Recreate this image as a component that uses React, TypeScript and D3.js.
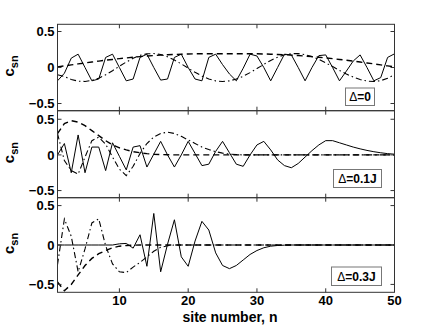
import React from "react";
import * as d3 from "d3";

// site numbers n = 1..50
const sites = d3.range(1, 51);
const xTicks = [10, 20, 30, 40, 50];
const yTicks = [-0.5, 0, 0.5];
const yTickLabels = ["\u22120.5", "0", "0.5"];

// Delta = 0
const topSolid = [
  -0.185, -0.08, 0.13, 0.185, 0.0, -0.185, -0.16, 0.14, 0.185, 0.0,
  -0.185, -0.16, 0.14, 0.185, 0.0, -0.175, -0.16, 0.14, 0.185, 0.0,
  -0.16, -0.185, 0.14, 0.185, 0.04, -0.09, -0.185, -0.01, 0.185, 0.16,
  0.0, -0.185, 0.0, 0.185, 0.175, 0.0, -0.185, 0.0, 0.165, 0.175,
  0.0, -0.185, -0.05, 0.09, 0.175, 0.0, -0.185, -0.14, 0.14, 0.19,
];
const topDashed = [
  0.008, 0.022, 0.036, 0.05, 0.063, 0.076, 0.089, 0.101, 0.112, 0.123,
  0.133, 0.142, 0.151, 0.159, 0.166, 0.172, 0.177, 0.181, 0.185, 0.188,
  0.19, 0.191, 0.192, 0.192, 0.192, 0.192, 0.192, 0.192, 0.191, 0.19,
  0.188, 0.185, 0.181, 0.177, 0.172, 0.166, 0.159, 0.151, 0.142, 0.133,
  0.123, 0.112, 0.101, 0.089, 0.076, 0.063, 0.05, 0.036, 0.022, 0.008,
];
const topDashDot = [
  -0.1, -0.126, -0.166, -0.19, -0.194, -0.18, -0.148, -0.101, -0.044, 0.017,
  0.076, 0.128, 0.168, 0.19, 0.194, 0.18, 0.149, 0.104, 0.05, -0.009,
  -0.067, -0.119, -0.16, -0.186, -0.195, -0.186, -0.161, -0.122, -0.071, -0.015,
  0.043, 0.098, 0.143, 0.176, 0.193, 0.193, 0.179, 0.151, 0.112, 0.065,
  0.013, -0.04, -0.09, -0.133, -0.167, -0.188, -0.195, -0.183, -0.149, -0.098,
];

// Delta = 0.1J
const midSolid = [
  0.0, 0.16, -0.25, 0.28, -0.25, 0.11, 0.11, -0.22, 0.17, -0.02,
  -0.21, 0.11, 0.13, -0.17, 0.01, 0.19, 0.0, -0.17, 0.0, 0.19,
  0.02, -0.15, -0.13, 0.05, 0.19, 0.03, -0.13, -0.16, 0.0, 0.14,
  0.19, 0.07, -0.07, -0.15, -0.18, -0.12, -0.03, 0.06, 0.14, 0.2,
  0.2, 0.17, 0.14, 0.11, 0.085, 0.063, 0.045, 0.03, 0.018, 0.01,
];
const midDashed = [
  0.3, 0.44, 0.48, 0.46, 0.41, 0.34, 0.27, 0.2, 0.14, 0.1,
  0.07, 0.045, 0.03, 0.018, 0.01, 0.005, 0.002, 0, 0, 0,
  0, 0, 0, 0, 0, 0, 0, 0, 0, 0,
  0, 0, 0, 0, 0, 0, 0, 0, 0, 0,
  0, 0, 0, 0, 0, 0, 0, 0, 0, 0,
];
const midDashDot = [
  0.3, -0.08, -0.22, -0.27, -0.03, 0.2, 0.25, 0.15, -0.03, -0.2,
  -0.29, -0.16, 0.02, 0.16, 0.25, 0.3, 0.32, 0.3, 0.26, 0.21,
  0.16, 0.11, 0.075, 0.045, 0.025, 0.012, 0.005, 0, 0, 0,
  0, 0, 0, 0, 0, 0, 0, 0, 0, 0,
  0, 0, 0, 0, 0, 0, 0, 0, 0, 0,
];

// Delta = 0.3J
const botSolid = [
  0, 0, 0, 0, 0, 0, 0, 0, 0, 0.015,
  0.02, -0.04, 0.13, -0.27, 0.4, -0.34, 0.01, 0.32, -0.15, -0.27,
  0.05, 0.3, 0.19, -0.1, -0.26, -0.3, -0.26, -0.19, -0.12, -0.07,
  -0.035, -0.015, -0.006, -0.002, 0, 0, 0, 0, 0, 0,
  0, 0, 0, 0, 0, 0, 0, 0, 0, 0,
];
const botDashed = [
  -0.47, -0.58, -0.5, -0.38, -0.26, -0.17, -0.11, -0.07, -0.035, -0.015,
  -0.006, -0.002, 0, 0, 0, 0, 0, 0, 0, 0,
  0, 0, 0, 0, 0, 0, 0, 0, 0, 0,
  0, 0, 0, 0, 0, 0, 0, 0, 0, 0,
  0, 0, 0, 0, 0, 0, 0, 0, 0, 0,
];
const botDashDot = [
  -0.25, 0.33, 0.11, -0.34, -0.05, 0.28, 0.33, -0.01, -0.24, -0.34,
  -0.35, -0.28, -0.22, -0.15, -0.08, -0.03, -0.01, 0, 0, 0,
  0, 0, 0, 0, 0, 0, 0, 0, 0, 0,
  0, 0, 0, 0, 0, 0, 0, 0, 0, 0,
  0, 0, 0, 0, 0, 0, 0, 0, 0, 0,
];

const panels = [
  { top: 24.3, bottom: 110.7, domain: [-0.6, 0.6], series: [topSolid, topDashed, topDashDot], label: "=0", box: [345.5, 88, 29, 17.5] },
  { top: 110.7, bottom: 197.7, domain: [-0.6, 0.62], series: [midSolid, midDashed, midDashDot], label: "=0.1J", box: [333.5, 169.5, 48, 18] },
  { top: 197.7, bottom: 292.3, domain: [-0.6, 0.6], series: [botSolid, botDashed, botDashDot], label: "=0.3J", box: [331.5, 267, 50, 18.5] },
];

// solid, dashed, dash-dot
const dashes = [null, "6,4", "6,3,1.5,3"];
const widths = [1, 1.4, 1.1];
const font = "Arial, 'Liberation Sans', Helvetica, sans-serif";

export default function App() {
  const x = d3.scaleLinear().domain([1, 50]).range([57.5, 394.5]);
  const left = x.range()[0];
  const right = x.range()[1];

  return (
    <svg width={436} height={329} style={{ position: "absolute", left: 0, top: 0, background: "#fff" }} fontFamily={font}>
      {panels.map((p, pi) => {
        const y = d3.scaleLinear().domain(p.domain).range([p.bottom, p.top]);
        const line = d3.line<number>().x((_, i) => x(sites[i])).y((d) => y(d));
        const mid = (p.top + p.bottom) / 2;
        return (
          <g key={pi}>
            <defs>
              <clipPath id={"clip" + pi}>
                <rect x={left} y={p.top} width={right - left} height={p.bottom - p.top} />
              </clipPath>
            </defs>
            <g clipPath={`url(#clip${pi})`}>
              {p.series.map((s, si) => (
                <path key={si} d={line(s) || ""} fill="none" stroke="#000" strokeWidth={widths[si]}
                  strokeDasharray={dashes[si] || undefined} />
              ))}
            </g>
            <rect x={left} y={p.top} width={right - left} height={p.bottom - p.top} fill="none" stroke="#333" strokeWidth={1} />
            {xTicks.filter((t) => t < 50).map((t) => (
              <g key={t} stroke="#333">
                <line x1={x(t)} x2={x(t)} y1={p.top} y2={p.top + 4} />
                <line x1={x(t)} x2={x(t)} y1={p.bottom} y2={p.bottom - 4} />
              </g>
            ))}
            {yTicks.map((t, ti) => (
              <g key={t}>
                <line x1={left} x2={left + 4} y1={y(t)} y2={y(t)} stroke="#333" />
                <line x1={right} x2={right - 4} y1={y(t)} y2={y(t)} stroke="#333" />
                <text x={left - 3} y={y(t)} dy="0.36em" textAnchor="end" fontSize={13} fontWeight="bold">
                  {yTickLabels[ti]}
                </text>
              </g>
            ))}
            <text transform={`translate(14,${mid + 9}) rotate(-90)`} fontSize={15} fontWeight="bold">
              c<tspan fontSize={11} dy={4}>sn</tspan>
            </text>
            <rect x={p.box[0]} y={p.box[1]} width={p.box[2]} height={p.box[3]} fill="#fff" stroke="#777" strokeWidth={1} />
            <text x={p.box[0] + p.box[2] / 2} y={p.box[1] + p.box[3] / 2} dy="0.36em" textAnchor="middle" fontSize={12} fontWeight="bold">
              <tspan fontWeight="normal">{"\u0394"}</tspan>
              {p.label}
            </text>
          </g>
        );
      })}
      {xTicks.map((t) => (
        <text key={t} x={x(t)} y={305} textAnchor="middle" fontSize={13} fontWeight="bold">
          {t}
        </text>
      ))}
      <text x={(left + right) / 2 + 4} y={322} textAnchor="middle" fontSize={14} fontWeight="bold">
        site number, n
      </text>
    </svg>
  );
}
